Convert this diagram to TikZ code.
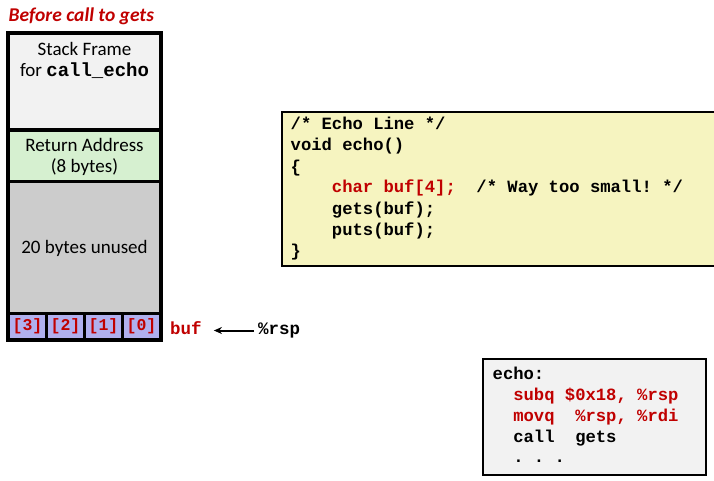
\documentclass[tikz,border=0pt]{standalone}
\usepackage{fontspec}
\setmainfont{Carlito}
\newfontfamily\codefont{Liberation Mono}
\usetikzlibrary{arrows.meta}
\frenchspacing
\definecolor{darkred}{RGB}{192,0,0}
\definecolor{framegray}{RGB}{242,242,242}
\definecolor{retgreen}{RGB}{214,240,208}
\definecolor{unusedgray}{RGB}{204,204,204}
\definecolor{bufviolet}{RGB}{176,176,238}
\definecolor{codeyellow}{RGB}{246,244,192}
\definecolor{asmgray}{RGB}{242,242,242}
\tikzset{
  cellbox/.style={anchor=north west, inner sep=0pt, outer sep=0pt, draw=none},
  calib/.style={font=\fontsize{19}{22}\selectfont, inner sep=0pt, anchor=base},
  codeline/.style={font=\codefont\bfseries\fontsize{17.2}{20}\selectfont\frenchspacing, inner sep=0pt, anchor=base west},
  bufcell/.style={cellbox, fill=bufviolet, minimum height=23pt, text=darkred,
     font=\codefont\bfseries\fontsize{16.5}{18}\selectfont},
  ptrlabel/.style={font=\codefont\bfseries\fontsize{17.5}{20}\selectfont, inner sep=0pt,
     anchor=base west, text height=11pt, text depth=4pt},
}
\begin{document}
\begin{tikzpicture}[x=1pt,y=-1pt]
\useasboundingbox (0,0) rectangle (714,481);
% title
\node[calib, anchor=base west, text=darkred, font=\bfseries\itshape\fontsize{19.5}{22}\selectfont] (title) at (8.5,22) {Before call to gets};
% stack
\node[cellbox, fill=black, minimum width=157pt, minimum height=311pt] (stack) at (6,31) {};
\node[cellbox, fill=framegray, minimum width=149pt, minimum height=93pt] (frame) at (10,35) {};
\node[cellbox, fill=retgreen, minimum width=149pt, minimum height=48pt] (ret) at (10,132) {};
\node[cellbox, fill=unusedgray, minimum width=149pt, minimum height=129pt] (unused) at (10,183) {};
\node[bufcell, minimum width=35pt] (b3) at (10,315) {[3]};
\node[bufcell, minimum width=35pt] (b2) at (48,315) {[2]};
\node[bufcell, minimum width=35pt] (b1) at (86,315) {[1]};
\node[bufcell, minimum width=35pt] (b0) at (124,315) {[0]};
\node[calib] (sf1) at (84.5,55.5) {Stack Frame};
\node[calib] (sf2) at (84.5,77) {for {\codefont\bfseries call\_echo}};
\node[calib] (ra1) at (84.5,151.5) {Return Address};
\node[calib] (ra2) at (84.5,173) {(8 bytes)};
\node[calib] (un) at (84.5,253) {20 bytes unused};
% pointer
\node[ptrlabel, text=darkred] (buf) at (170,334) {buf};
\node[ptrlabel] (rsp) at (258,334) {\%rsp};
\draw[-{Stealth[length=8pt,width=7pt]}, line width=2pt, shorten >=12pt, shorten <=4pt] (rsp.west) -- (buf.east);
% C code box
\node[cellbox, fill=codeyellow, draw=black, line width=1.3pt, minimum width=440pt, minimum height=154pt] (cbox) at (282,112) {};
\node[codeline] (c1) at (290.5,130) {/* Echo Line */};
\node[codeline] (c2) at (290.5,151) {void echo()};
\node[codeline] (c3) at (290.5,172) {\{};
\node[codeline] (c4) at (290.5,193) {~~~~\textcolor{darkred}{char buf[4];}~~/* Way too small! */};
\node[codeline] (c5) at (290.5,214) {~~~~gets(buf);};
\node[codeline] (c6) at (290.5,235) {~~~~puts(buf);};
\node[codeline] (c7) at (290.5,256) {\}};
% asm box
\node[cellbox, fill=asmgray, draw=black, line width=1.3pt, minimum width=223pt, minimum height=116pt] (abox) at (483,359) {};
\node[codeline] (a1) at (492.5,379) {echo:};
\node[codeline, text=darkred] (a2) at (492.5,400) {~~subq \$0x18, \%rsp};
\node[codeline, text=darkred] (a3) at (492.5,421) {~~movq ~\%rsp, \%rdi};
\node[codeline] (a4) at (492.5,442) {~~call ~gets};
\node[codeline] (a5) at (492.5,462) {~~. . .};
\end{tikzpicture}
\end{document}
